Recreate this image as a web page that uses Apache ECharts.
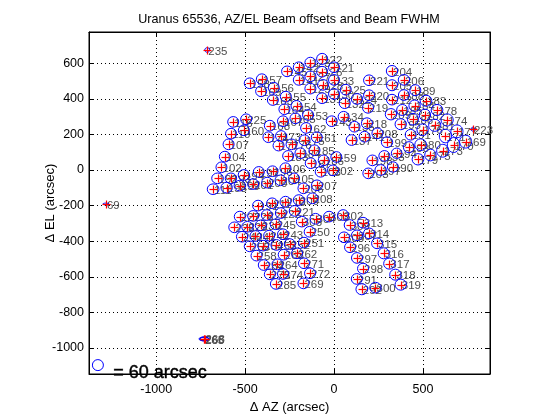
<!DOCTYPE html>
<html>
<head>
<meta charset="utf-8">
<script src="https://cdn.jsdelivr.net/npm/echarts@6/dist/echarts.min.js"></script>
<style>html,body{margin:0;padding:0;background:#fff}#main{width:560px;height:420px}</style>
</head>
<body>
<div id="main"></div>
<script>
var detectors = ['235','223','69','265','266','268',
  '122','123','142','121','145','126','127','141','133','157',
  '158','128','156','129','169','130','125','155','131','163',
  '132','154','164','153','134','165','225','116','167','143',
  '168','162','160','110','173','174','161','175','107','176',
  '177','185','184','183','104','159','186','187','102','106',
  '202','103','197','196','194','193','192','105','204','201',
  '200','199','198','207','206','111','208','209','210','211',
  '191','221','222','224','226','227','302','303','304','305',
  '228','229','230','245','250','243','242','241','240','308',
  '251','252','253','254','255','262','263','258','271','264',
  '284','272','274','275','285','269','313','309','314','307',
  '315','296','316','297','317','298','318','291','319','300',
  '292','204','206','221','205','189','188','220','124','212',
  '183','184','219','185','178','209','182','186','174','218',
  '195','181','135','176','177','208','191','171','141','169',
  '137','199','180','170','193','173','175','194','133','179',
  '198','190','197','203'];
var azOffset = [-713,781,-1283,-732,-730,-728,
  -67,-133,-198,0,-264,-67,-133,-198,0,-406,
  -474,-62,-339,-133,-410,0,66,-271,-67,-344,
  60,-211,-279,-146,54,-217,-494,-567,-287,-13,
  -361,-157,-507,-579,-298,-369,-97,-166,-593,-239,
  -312,-110,-189,-258,-614,13,-58,-131,-633,-273,
  -6,-75,-423,-346,-507,-580,-655,-225,-301,-455,
  -376,-530,-604,-96,-172,-680,-121,-198,-273,-348,
  -427,-221,-299,-378,-455,-530,51,-28,-104,-181,
  -560,-487,-412,-328,-137,-287,-365,-442,-517,56,
  -169,-249,-324,-399,-474,-208,-283,-436,-169,-318,
  -395,-135,-287,-361,-326,-172,163,88,197,129,
  242,90,279,129,311,163,345,128,375,233,
  156,326,393,197,326,457,393,197,129,326,
  517,453,191,384,579,320,511,444,636,185,
  375,566,115,498,691,244,431,626,172,740,
  99,298,487,672,421,611,542,352,283,472,
  216,331,262,193];
var elOffset = [674,229,-191,-949,-950,-948,
  624,603,577,577,554,552,526,506,506,510,
  487,478,462,457,442,427,451,412,403,393,
  375,360,341,309,299,290,285,270,274,274,
  249,236,223,204,191,184,184,167,144,144,
  137,111,94,79,75,73,54,38,15,10,
  -2,-10,-11,-7,-28,-47,-47,-47,-58,-79,
  -71,-88,-99,-86,-103,-108,-159,-169,-178,-187,
  -200,-230,-242,-253,-258,-262,-253,-262,-274,-290,
  -322,-319,-311,-305,-347,-361,-369,-371,-375,-378,
  -408,-416,-421,-425,-429,-468,-476,-481,-524,-530,
  -534,-580,-584,-586,-640,-637,-296,-309,-356,-367,
  -412,-434,-468,-494,-526,-554,-588,-612,-644,-661,
  -670,556,506,504,476,448,421,420,399,395,
  389,361,350,337,337,313,309,285,281,262,
  257,251,243,226,217,206,198,191,187,159,
  168,156,142,140,128,108,84,94,79,60,
  54,17,0,-19];
var fwhmAz = [28,22,34,55,50,50,
  62,62,62,62,62,62,62,62,62,62,
  62,62,62,62,62,62,62,62,62,62,
  62,62,62,62,62,62,62,62,62,62,
  62,62,62,62,62,62,62,62,62,62,
  62,62,62,62,62,62,62,62,62,62,
  62,62,62,62,64,64,66,62,62,62,
  62,64,64,62,62,66,62,62,62,62,
  62,62,62,62,62,62,62,62,62,62,
  64,64,62,62,62,62,62,62,64,62,
  62,62,62,62,62,62,62,62,62,62,
  62,62,62,62,64,62,62,62,62,62,
  62,62,62,62,64,62,64,62,64,64,
  66,64,64,62,62,62,62,62,64,62,
  66,64,62,64,66,64,64,62,68,62,
  64,68,62,64,68,62,62,68,62,68,
  62,64,66,70,62,68,64,60,62,66,
  62,62,64,62];
var fwhmEl = [26,22,10,22,20,20,
  62,60,60,60,60,60,60,60,60,60,
  60,60,60,60,60,60,60,60,60,60,
  60,60,60,60,60,60,60,60,60,60,
  60,60,60,60,60,60,60,60,60,60,
  60,60,60,60,60,60,60,60,60,60,
  60,60,60,60,60,60,60,60,60,60,
  60,60,60,60,60,60,60,60,60,60,
  60,60,60,60,60,60,60,60,60,60,
  60,60,60,60,60,60,60,60,60,60,
  60,60,60,60,60,60,60,60,60,60,
  60,60,60,60,60,60,60,60,60,60,
  60,60,62,60,62,60,62,60,62,60,
  62,62,60,60,62,62,60,60,60,60,
  62,64,62,62,62,64,66,66,68,62,
  62,68,60,66,72,60,60,76,60,72,
  60,60,66,84,62,72,66,58,60,64,
  60,58,60,60];

var xTicks = [-1000,-500,0,500];
var yTicks = [-1000,-800,-600,-400,-200,0,200,400,600];
var legendBeam = [[-1328,-1096,62,62]];
var legendText = '= 60 arcsec';

var rows = detectors.map(function (id, i) {
  return [azOffset[i], elOffset[i], fwhmAz[i], fwhmEl[i], id];
});

function snap(v) { return Math.round(v) + 0.5; }

function renderBeam(params, api) {
  var p = api.coord([api.value(0), api.value(1)]);
  var s = api.size([api.value(2), api.value(3)]);
  return {
    type: 'ellipse',
    shape: { cx: p[0], cy: p[1], rx: s[0] / 2, ry: s[1] / 2 },
    style: { fill: 'none', stroke: '#0000ff', lineWidth: 1 }
  };
}

function renderCross(params, api) {
  var p = api.coord([api.value(0), api.value(1)]);
  var x = snap(p[0]), y = snap(p[1]);
  var half = 4;
  return {
    type: 'group',
    children: [
      { type: 'line', shape: { x1: x - half, y1: y, x2: x + half, y2: y }, style: { stroke: '#ff0000', lineWidth: 1.2 } },
      { type: 'line', shape: { x1: x, y1: y - half, x2: x, y2: y + half }, style: { stroke: '#ff0000', lineWidth: 1.2 } }
    ]
  };
}

function renderId(params, api) {
  var p = api.coord([api.value(0), api.value(1)]);
  return {
    type: 'text',
    style: {
      x: p[0] + 1, y: p[1] + 1.5,
      text: String(rows[params.dataIndex][4]),
      fill: '#4d4d4d',
      font: '11.5px "Liberation Sans"',
      verticalAlign: 'middle'
    }
  };
}

function plainTick(v) { return String(v); }

var nameStyle = { color: '#000', fontFamily: 'Liberation Sans', fontSize: 13 };
var xDomain = { min: -1378, max: 877 };
var yDomain = { min: -1146, max: 775 };

var chart = echarts.init(document.getElementById('main'), null, { renderer: 'canvas' });
chart.setOption({
  animation: false,
  backgroundColor: '#fff',
  title: {
    text: 'Uranus 65536, AZ/EL Beam offsets and Beam FWHM',
    left: 284, top: 8, textAlign: 'center',
    textStyle: { color: '#000', fontFamily: 'Liberation Sans', fontSize: 12.6, fontWeight: 'normal' }
  },
  grid: { left: 89, right: 70, top: 32, bottom: 46, show: true, borderColor: '#000', borderWidth: 1, backgroundColor: '#fff', outerBoundsMode: 'none' },
  xAxis: [
    {
      type: 'value', min: xDomain.min, max: xDomain.max, position: 'bottom',
      name: '\u0394 AZ (arcsec)', nameLocation: 'middle', nameGap: 27, nameMoveOverlap: false,
      nameTextStyle: nameStyle,
      axisLine: { show: true, onZero: false, lineStyle: { color: '#000' } },
      axisTick: { show: true, inside: true, length: 5, customValues: xTicks, lineStyle: { color: '#000' } },
      axisLabel: { customValues: xTicks, margin: 9, color: '#000', fontFamily: 'Liberation Sans', fontSize: 12.5, formatter: plainTick },
      splitLine: { show: true, lineStyle: { type: [1, 3], color: '#000', width: 1 } }
    },
    {
      type: 'value', min: xDomain.min, max: xDomain.max, position: 'top',
      axisLine: { show: true, onZero: false, lineStyle: { color: '#000' } },
      axisTick: { show: true, inside: true, length: 5, customValues: xTicks, lineStyle: { color: '#000' } },
      axisLabel: { show: false }, splitLine: { show: false }
    }
  ],
  yAxis: [
    {
      type: 'value', min: yDomain.min, max: yDomain.max, position: 'left',
      name: '\u0394 EL (arcsec)', nameLocation: 'middle', nameGap: 32, nameRotate: 90, nameMoveOverlap: false,
      nameTextStyle: nameStyle,
      axisLine: { show: true, onZero: false, lineStyle: { color: '#000' } },
      axisTick: { show: true, inside: true, length: 5, customValues: yTicks, lineStyle: { color: '#000' } },
      axisLabel: { customValues: yTicks, margin: 5, color: '#000', fontFamily: 'Liberation Sans', fontSize: 12.5, formatter: plainTick },
      splitLine: { show: true, lineStyle: { type: [1, 3], color: '#000', width: 1 } }
    },
    {
      type: 'value', min: yDomain.min, max: yDomain.max, position: 'right',
      axisLine: { show: true, onZero: false, lineStyle: { color: '#000' } },
      axisTick: { show: true, inside: true, length: 5, customValues: yTicks, lineStyle: { color: '#000' } },
      axisLabel: { show: false }, splitLine: { show: false }
    }
  ],
  // ids go under the beams, crosses on top
  series: [
    { type: 'custom', name: 'id', z: 2, renderItem: renderId, data: rows, silent: true, clip: false },
    { type: 'custom', name: 'beam', z: 3, renderItem: renderBeam, data: rows, silent: true, clip: false },
    { type: 'custom', name: 'cross', z: 4, renderItem: renderCross, data: rows, silent: true, clip: false },
    { type: 'custom', name: 'scale', z: 3, renderItem: renderBeam, data: legendBeam, silent: true, clip: false }
  ],
  graphic: [
    {
      type: 'text', left: 113, top: 364, z: 10,
      style: { text: legendText, fill: '#000', font: '18px "Liberation Sans"', stroke: '#000', lineWidth: 0.4 }
    }
  ]
});
</script>
</body>
</html>
